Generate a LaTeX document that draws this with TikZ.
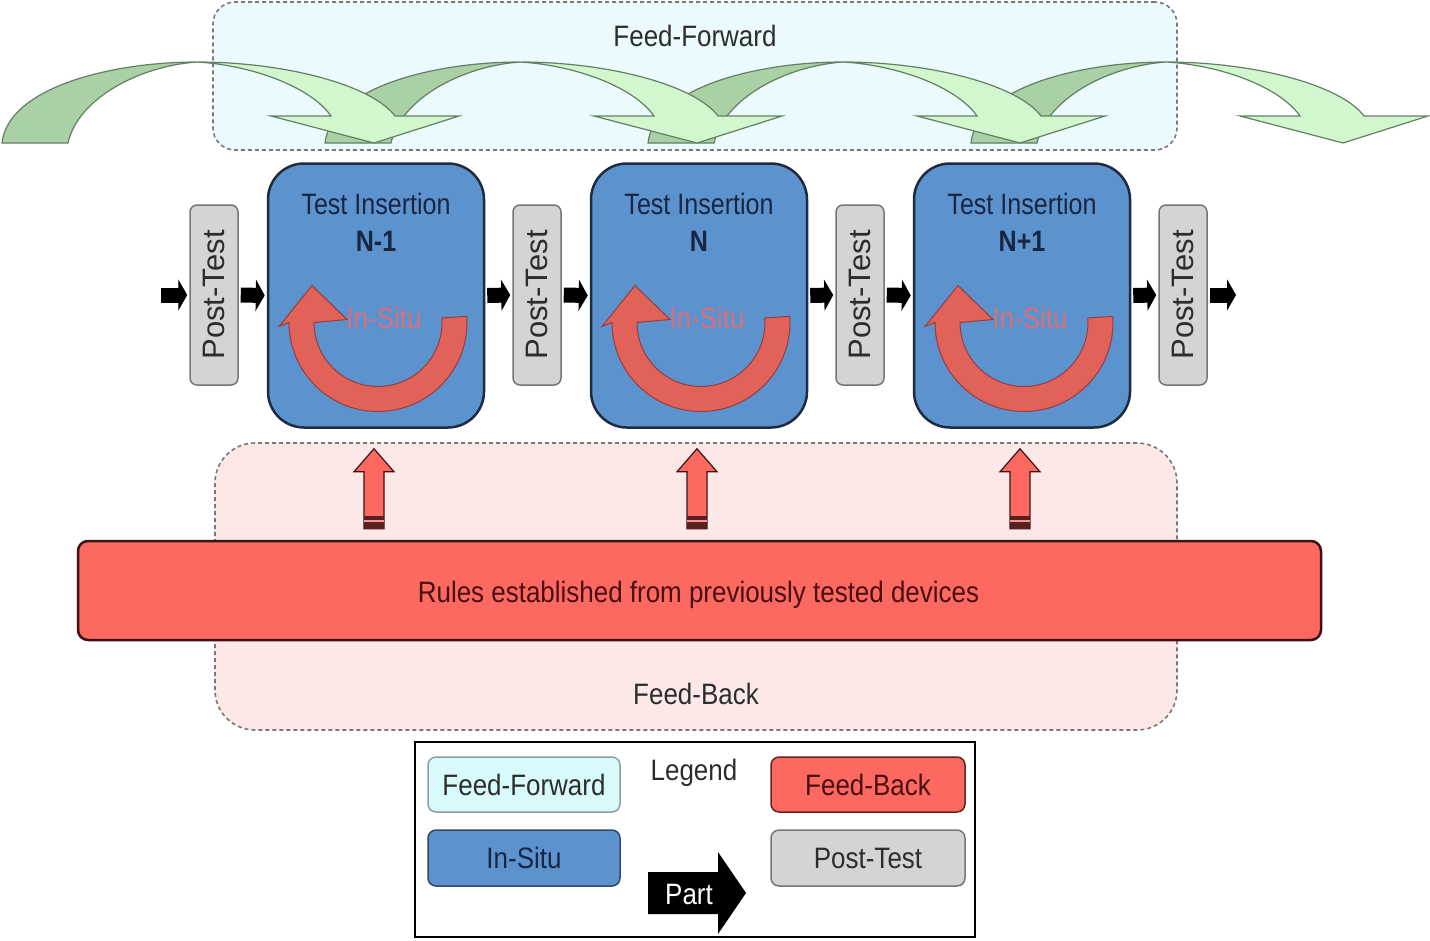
\documentclass[tikz,border=0pt]{standalone}
\usepackage{graphicx}
\usepackage{fontspec}
\setmainfont{Liberation Sans}
\usetikzlibrary{calc,arrows.meta}
\definecolor{tiblue}{RGB}{92,146,206}
\definecolor{tiborder}{RGB}{30,42,62}
\definecolor{tinavy}{RGB}{24,38,66}
\definecolor{insitured}{RGB}{224,98,88}
\definecolor{insitubd}{RGB}{150,62,62}
\definecolor{insitutxt}{RGB}{214,112,122}
\definecolor{ptgrey}{RGB}{212,212,212}
\definecolor{ptborder}{RGB}{118,118,118}
\definecolor{rulesred}{RGB}{253,104,96}
\definecolor{rulesbd}{RGB}{58,20,20}
\definecolor{rulestxt}{RGB}{72,16,16}
\definecolor{ffbg}{RGB}{234,250,253}
\definecolor{fbbg}{RGB}{253,232,232}
\definecolor{dashgrey}{RGB}{120,120,120}
\definecolor{legcyan}{RGB}{216,250,250}
\definecolor{legcyanbd}{RGB}{140,160,160}
\definecolor{gdarkc}{RGB}{170,208,166}
\definecolor{glightc}{RGB}{210,246,205}
\definecolor{gbd}{RGB}{100,128,100}
\definecolor{txtgrey}{RGB}{45,45,45}
\newcommand{\nrw}[1]{\scalebox{0.88}[1]{#1}}
\newcommand{\nrwt}[1]{\scalebox{0.85}[1]{#1}}
\begin{document}
\begin{tikzpicture}[x=1pt,y=-1pt,
  bigfont/.style={font=\fontsize{29.5}{37}\selectfont},
  ffbox/.style={draw=dashgrey, dashed, dash pattern=on 4pt off 3pt, line width=1.6pt, fill=ffbg, rounded corners=22pt, minimum width=964pt, minimum height=148pt, inner sep=0pt},
  fbbox/.style={draw=dashgrey, dashed, dash pattern=on 4pt off 3pt, line width=1.6pt, fill=fbbg, rounded corners=40pt, minimum width=962pt, minimum height=287pt, inner sep=0pt},
  tibox/.style={draw=tiborder, line width=2.5pt, fill=tiblue, rounded corners=36pt, minimum width=216pt, minimum height=264pt, inner sep=0pt},
  ptbox/.style={draw=ptborder, line width=1.5pt, fill=ptgrey, rounded corners=7pt, minimum width=48pt, minimum height=180pt, inner sep=0pt},
  pttxt/.style={font=\fontsize{31}{35}\selectfont, text=txtgrey, rotate=90, inner sep=0pt},
  titxt/.style={bigfont, text=tinavy, align=center, inner sep=0pt},
  insitu/.style={fill=insitured, draw=insitubd, line width=1pt},
  insitulab/.style={bigfont, text=insitutxt, inner sep=0pt},
  rulesbox/.style={draw=rulesbd, line width=2.5pt, fill=rulesred, rounded corners=10pt, minimum width=1243pt, minimum height=99pt, inner sep=0pt},
  blk/.style={black, line width=15pt, -{Triangle[length=9pt,width=31pt]}, shorten <=2pt, shorten >=2pt},
  uparr/.style={fill=rulesred, draw=rulesbd, line width=1.2pt},
  gdark/.style={fill=gdarkc, draw=gbd, line width=1.2pt},
  glight/.style={fill=glightc, draw=gbd, line width=1.2pt},
  lbox/.style={rounded corners=8pt, line width=1.5pt, minimum width=192pt, minimum height=55pt, inner sep=0pt, bigfont},
  plain/.style={bigfont, text=txtgrey, inner sep=0pt}
]
\useasboundingbox (0,0) rectangle (1430,940);
\fill[white] (0,0) rectangle (1430,940);

% backgrounds
\node[ffbox] (ff) at (695,76) {};
\node[fbbox] (fb) at (696,586.5) {};
\node[plain] (fftxt) at ($(ff.north)+(0,35)$) {\nrw{Feed-Forward}};
\node[plain] (fbtxt) at ($(fb.south)+(0,-37)$) {\nrw{Feed-Back}};

% green feed-forward arrows: back parts first
\foreach \d in {0,323,646,969}{
  \begin{scope}[shift={(\d,0)}]
    \filldraw[gdark] (2,143) .. controls (8,88) and (110,62) .. (197,62)
      .. controls (140,66) and (78,98) .. (68,143) -- cycle;
  \end{scope}
}
\foreach \d in {0,323,646,969}{
  \begin{scope}[shift={(\d,0)}]
    \filldraw[glight] (197,62) .. controls (285,62) and (372,85) .. (395,116)
      -- (459,116) -- (374,143) -- (271,116) -- (331,116)
      .. controls (310,86) and (250,65) .. (197,62) -- cycle;
  \end{scope}
}

% post-test boxes
\foreach \i/\x in {1/214,2/537,3/860,4/1183}{
  \node[ptbox] (pt\i) at (\x,295) {};
  \node[pttxt] (pt\i t) at (pt\i.center) {Post-Test};
}

% test insertion boxes
\foreach \i/\x/\lab in {1/376/N-1,2/699/N,3/1022/N+1}{
  \node[tibox] (ti\i) at (\x,295.5) {};
  \node[titxt] (ti\i t) at ($(ti\i.north)+(0,60)$) {\nrwt{Test Insertion}\\\textbf{\nrwt{\lab}}};
  \coordinate (c\i) at ($(ti\i.center)+(2,27)$);
  \filldraw[insitu] ($(c\i)+(-4:89)$) arc[start angle=-4,end angle=180,radius=89]
    -- ($(c\i)+(-99,4)$) -- ($(c\i)+(-66,-37)$) -- ($(c\i)+(-31,-3)$)
    -- ($(c\i)+(-64,0)$) arc[start angle=180,end angle=-4,radius=64] -- cycle;
  \node[insitulab] (is\i) at ($(c\i)+(6,-5)$) {\nrw{In-Situ}};
}

% part flow arrows
\coordinate (in) at (159,295);
\coordinate (out) at (1238,295);
\draw[blk] (in) -- (pt1.west);
\draw[blk] (pt1.east) -- (ti1.west);
\draw[blk] (ti1.east) -- (pt2.west);
\draw[blk] (pt2.east) -- (ti2.west);
\draw[blk] (ti2.east) -- (pt3.west);
\draw[blk] (pt3.east) -- (ti3.west);
\draw[blk] (ti3.east) -- (pt4.west);
\draw[blk] (pt4.east) -- (out);

% rules box
\node[rulesbox] (rules) at (699.5,590.5) {};
\node[bigfont, text=rulestxt, inner sep=0pt] (rulest) at ($(rules.center)+(-1,4)$) {\nrw{Rules established from previously tested devices}};

% feed-back up arrows
\foreach \i in {1,2,3}{
  \coordinate (t\i) at ($(ti\i.south)+(-2,20)$);
  \coordinate (b\i) at ($(ti\i.south |- rules.north)+(-2,-11)$);
  \filldraw[uparr] (t\i) -- ($(t\i)+(20,23)$) -- ($(t\i)+(10,23)$) -- ($(b\i)+(10,0)$)
    -- ($(b\i)+(-10,0)$) -- ($(t\i)+(-10,23)$) -- ($(t\i)+(-20,23)$) -- cycle;
  \fill[rulesbd!85!rulesred] ($(b\i)+(-10,-13)$) rectangle ($(b\i)+(10,0)$);
  \fill[rulesred!70!white] ($(b\i)+(-10,-8.5)$) rectangle ($(b\i)+(10,-6.5)$);
}

% legend
\node[draw=black, line width=2.5pt, fill=white, minimum width=560pt, minimum height=195pt, inner sep=0pt] (legend) at (695,839.5) {};
\node[plain] (legt) at (694,773) {\nrw{Legend}};
\node[lbox, fill=legcyan, draw=legcyanbd, text=txtgrey] (lff) at (524,784.5) {\nrw{Feed-Forward}};
\node[lbox, fill=tiblue, draw=tiborder!70!tiblue, text=tinavy, minimum height=56pt] (lis) at (524,858) {\nrw{In-Situ}};
\node[lbox, fill=rulesred, draw=rulesbd!80!rulesred, text=rulestxt, minimum width=194pt] (lfb) at (868,784.5) {\nrw{Feed-Back}};
\node[lbox, fill=ptgrey, draw=ptborder, text=txtgrey, minimum width=194pt, minimum height=56pt] (lpt) at (868,858) {\nrw{Post-Test}};
\fill[black] (648,872) -- (718,872) -- (718,852) -- (746,893) -- (718,934) -- (718,914) -- (648,914) -- cycle;
\node[bigfont, text=white, inner sep=0pt] (part) at (689,894) {\nrw{Part}};
\end{tikzpicture}
\end{document}
